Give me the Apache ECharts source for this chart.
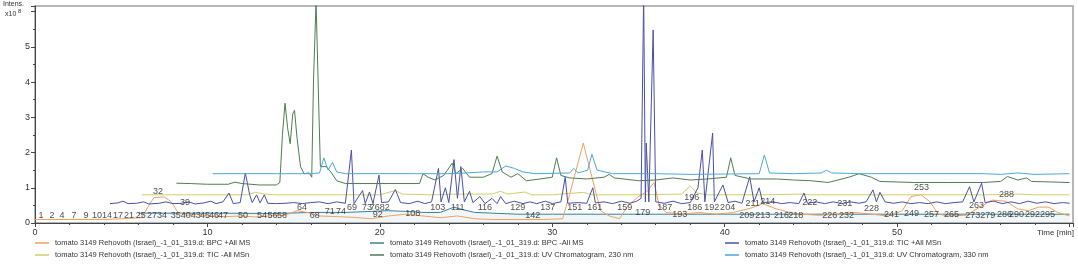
<!DOCTYPE html>
<html><head><meta charset="utf-8">
<script src="https://cdn.jsdelivr.net/npm/echarts@6/dist/echarts.min.js"></script>
<style>html,body{margin:0;padding:0;background:#fff}#c{width:1078px;height:269px}</style>
</head><body><div id="c"></div>
<script>
const P = 'tomato 3149 Rehovoth (Israel)_-1_01_319.d: ';
const names = [P+'BPC +All MS', P+'TIC -All MSn', P+'BPC -All MS', P+'UV Chromatogram, 230 nm', P+'TIC +All MSn', P+'UV Chromatogram, 330 nm'];
const colors = ['#f0a060', '#cfcf6a', '#3c7f96', '#4f7d52', '#4a50a6', '#4aa8d6'];

const xTicks = [0, 10, 20, 30, 40, 50];
const yTicks = [0, 1, 2, 3, 4, 5];

// BPC +All MS (orange)
const bpcPosT = [0,2,4,5,6.2,6.6,6.9,7.5,7.9,8.3,8.8,9.5,10,11,12,12.8,13.5,14.5,15.2,15.8,16.5,17.5,18.5,19.5,20.5,21.5,22.5,23.5,24.5,25.5,26.5,28,29.5,30.6,31.0,31.8,32.3,32.8,33.3,33.9,34.4,35.0,35.5,35.9,36.2,36.6,37.5,38.5,39.5,40.5,41.5,42.2,43,43.8,44.5,45.5,46.5,47.5,48.5,49.5,50.3,50.8,51.4,51.9,52.4,53,54,54.8,55.5,56.3,57,57.6,58.2,58.8,59.3,60];
const bpcPosV = [0.1,0.1,0.1,0.12,0.15,0.5,0.72,0.74,0.6,0.3,0.22,0.25,0.2,0.18,0.2,0.17,0.2,0.22,0.35,0.3,0.2,0.18,0.16,0.12,0.2,0.25,0.2,0.15,0.2,0.12,0.1,0.1,0.1,0.12,0.8,2.27,1.3,0.35,0.2,0.12,0.5,0.75,0.9,1.15,0.5,0.3,0.25,0.3,0.25,0.3,0.42,0.55,0.4,0.3,0.25,0.22,0.25,0.3,0.25,0.2,0.35,0.75,0.8,0.6,0.25,0.2,0.22,0.45,0.65,0.62,0.4,0.35,0.45,0.45,0.3,0.2];

// TIC -All MSn (yellow-green)
const ticNegT = [6.2,8,10,12.3,12.8,13.3,14,16,18,20,20.9,21.3,23,24.5,26.5,27.0,27.4,28.4,28.8,30,31.8,32.3,35,37.5,38.0,38.4,39,42,44.5,45,48,50,52,55,57,58,60];
const ticNegV = [0.8,0.8,0.8,0.8,0.87,0.82,0.8,0.8,0.8,0.8,0.92,0.82,0.8,0.82,0.82,0.9,0.82,0.88,0.8,0.8,0.87,0.8,0.8,0.82,1.05,0.85,0.8,0.8,0.82,0.8,0.8,0.8,0.8,0.8,0.82,0.8,0.8];

// BPC -All MS (teal)
const bpcNegT = [6,10,14,16,18,19.5,20.5,21.5,22.5,23.5,24.3,24.8,25.5,26.5,28,30,34,36,40,44,50,55,60];
const bpcNegV = [0.28,0.28,0.27,0.3,0.3,0.33,0.35,0.33,0.3,0.3,0.45,0.38,0.3,0.28,0.25,0.25,0.25,0.25,0.25,0.25,0.25,0.25,0.25];

// UV Chromatogram, 230 nm (green)
const uv230T = [8.2,9,10,11.2,11.6,12,13,14,14.2,14.35,14.5,14.65,14.8,14.95,15.05,15.2,15.4,15.6,15.9,16.05,16.15,16.3,16.42,16.55,16.9,17.2,17.5,18,20,22.3,22.5,22.8,23.2,23.7,24.2,24.4,24.8,25.2,26,26.5,26.8,27.1,27.6,28,28.5,29.3,30.0,30.25,30.5,31,32,33,33.3,33.6,35,36,37,38,39,40.1,40.35,40.6,41.5,43,44,45,46,47.2,47.8,48.5,49,51,53,55,56,56.4,57.0,57.5,57.8,60];
const uv230V = [1.13,1.12,1.1,1.1,1.16,1.12,1.08,1.08,1.15,2.5,3.4,2.7,2.25,3.1,3.2,2.4,1.6,1.4,1.42,1.3,4.0,6.3,4.0,1.6,1.6,1.42,1.2,1.12,1.12,1.12,1.4,1.3,1.22,1.35,1.7,1.4,1.55,1.3,1.3,1.4,1.9,1.45,1.3,1.4,1.2,1.25,1.3,1.85,1.35,1.28,1.25,1.3,1.38,1.28,1.2,1.22,1.28,1.22,1.25,1.3,1.85,1.35,1.25,1.25,1.22,1.2,1.15,1.3,1.4,1.3,1.18,1.15,1.15,1.15,1.18,1.32,1.22,1.28,1.18,1.15];

// TIC +All MSn (navy)
const ticPosT = [4.35,4.8,5.1,5.4,5.9,6.3,6.6,7.2,7.6,8.0,8.5,8.9,9.3,9.8,10.2,10.5,10.9,11.25,11.5,11.9,12.2,12.45,12.6,12.85,13.05,13.3,13.5,14,14.5,15,15.5,16,16.5,17,17.5,18.0,18.35,18.5,19.0,19.15,19.4,19.6,19.95,20.1,20.5,20.9,21.2,21.7,22.2,22.6,23.0,23.4,23.55,23.8,24.0,24.3,24.5,24.7,24.9,25.2,25.4,25.8,26.1,26.5,26.8,27.0,27.3,27.8,28.3,28.7,29.1,29.6,30.0,30.5,30.75,30.9,31.5,32.0,32.35,32.5,33.0,33.5,34.0,34.5,34.9,35.15,35.3,35.4,35.45,35.6,35.85,36.0,36.5,37,37.5,38,38.45,38.7,38.85,39.3,39.4,39.9,40.2,40.6,41.0,41.45,41.7,42.0,42.2,42.8,43.3,43.8,44.3,44.6,44.8,45.3,45.8,46.3,46.8,47.3,47.8,48.2,48.6,48.8,49.0,49.3,49.8,50.3,50.8,51.3,51.8,52.3,52.8,53.3,53.8,54.2,54.45,54.9,55.1,55.6,56.1,56.6,57.1,57.6,58.1,58.6,59.1,59.6,60.0];
const ticPosV = [0.55,0.57,0.62,0.55,0.56,0.6,0.54,0.56,0.6,0.55,0.56,0.6,0.54,0.57,0.62,0.55,0.6,0.85,0.55,0.58,1.42,0.8,0.58,0.8,0.57,0.8,0.56,0.55,0.56,0.58,0.55,0.58,0.6,0.55,0.6,0.56,2.07,0.55,0.92,0.55,0.88,0.55,1.36,0.58,0.6,0.95,0.58,0.55,0.62,0.55,0.6,1.55,0.6,1.0,0.58,1.8,0.7,1.6,0.6,0.9,0.58,0.75,0.55,0.7,0.55,0.75,0.55,0.62,0.55,0.6,0.55,0.62,0.55,0.6,1.3,0.56,0.58,0.56,1.0,0.57,0.6,0.55,0.62,0.56,0.62,0.7,6.5,0.6,2.27,0.6,5.48,0.6,0.56,0.62,0.55,0.58,1.0,2.07,0.6,2.55,0.6,1.08,0.58,0.62,0.56,1.31,0.6,1.0,0.58,0.6,0.55,0.58,0.55,0.85,0.56,0.6,0.55,0.6,0.55,0.6,0.56,0.6,0.94,0.6,0.87,0.6,0.56,0.6,0.55,0.58,0.55,0.6,0.55,0.58,0.6,1.03,0.6,1.13,0.58,0.62,0.55,0.6,0.55,0.62,0.56,0.6,0.55,0.58,0.56];

// UV Chromatogram, 330 nm (light blue)
const uv330T = [10.3,12,14,16,16.5,16.75,17.0,17.25,17.5,18,20,22,24,25,26,26.8,27.3,27.8,28.3,29,31,31.25,31.5,32.05,32.3,32.6,33.5,36,38,42.0,42.3,42.6,44,45.6,45.9,46.2,48,55,56,57,58,60];
const uv330V = [1.4,1.4,1.4,1.4,1.42,1.85,1.5,1.72,1.45,1.4,1.4,1.4,1.4,1.42,1.45,1.45,1.62,1.55,1.45,1.4,1.42,1.55,1.42,1.5,1.95,1.5,1.4,1.4,1.38,1.4,1.93,1.42,1.4,1.42,1.5,1.42,1.4,1.4,1.38,1.42,1.38,1.4];

// Peak labels
const peakNames = ['1','2','4','7','9','10','14','17','21','25','27','34','32','39','35','40','43','45','46','47','50','54','56','58','64','68','71','74','69','73','76','82','92','108','103','111','116','129','137','142','151','161','159','179','187','193','196','186','192','204','209','211','214','213','216','218','222','226','232','231','228','241','249','253','257','265','273','279','286','290','292','295','263','288'];
const peakT = [0.35,0.99,1.57,2.26,2.96,3.59,4.17,4.81,5.45,6.14,6.78,7.36,7.13,8.70,8.17,8.75,9.33,9.86,10.38,10.9,12.06,13.16,13.77,14.32,15.48,16.23,17.1,17.74,18.38,19.25,19.71,20.29,19.88,21.91,23.36,24.52,26.09,28.0,29.74,28.87,31.3,32.46,34.2,35.25,36.52,37.39,38.09,38.26,39.25,40.17,41.28,41.62,42.49,42.2,43.3,44.12,44.93,46.09,47.07,46.96,48.52,49.68,50.84,51.42,52.0,53.16,54.38,55.25,56.23,56.93,57.85,58.72,54.61,56.35];
const peakV = [0.2,0.2,0.2,0.2,0.2,0.2,0.2,0.2,0.2,0.2,0.2,0.2,0.88,0.57,0.2,0.2,0.2,0.2,0.2,0.2,0.2,0.2,0.2,0.2,0.43,0.2,0.34,0.34,0.43,0.43,0.43,0.43,0.25,0.26,0.43,0.45,0.43,0.43,0.43,0.2,0.45,0.45,0.45,0.31,0.45,0.23,0.71,0.43,0.45,0.43,0.2,0.54,0.62,0.2,0.2,0.2,0.57,0.2,0.2,0.54,0.4,0.23,0.28,1.02,0.23,0.23,0.2,0.2,0.23,0.23,0.23,0.23,0.51,0.82];

const seriesT = [bpcPosT, ticNegT, bpcNegT, uv230T, ticPosT, uv330T];
const seriesV = [bpcPosV, ticNegV, bpcNegV, uv230V, ticPosV, uv330V];

const drawOrder = [2, 0, 1, 4, 3, 5];
const series = drawOrder.map(i => {
  const s = {
    name: names[i], type: 'line', showSymbol: false, symbol: 'none',
    data: seriesT[i].map((t, k) => [t, seriesV[i][k]]),
    lineStyle: { width: 1, color: colors[i] }, itemStyle: { color: colors[i] },
    clip: true, z: 2 + drawOrder.indexOf(i)
  };
  if (i === 2) s.areaStyle = { color: 'rgba(120,170,200,0.15)' };
  return s;
});
series.push({
  type: 'scatter', symbolSize: 0, silent: true, z: 20,
  data: peakNames.map((n, k) => ({ name: n, value: [peakT[k], peakV[k]] })),
  label: { show: true, position: 'inside', formatter: p => p.name, fontSize: 9, color: '#222', fontFamily: 'Liberation Sans' }
});

const chart = echarts.init(document.getElementById('c'), null, { renderer: 'canvas' });
const legBase = {
  orient: 'vertical', itemGap: 4, itemWidth: 14, itemHeight: 1.5, icon: 'rect',
  top: 239, padding: 0,
  textStyle: { fontSize: 7.5, color: '#333', fontFamily: 'Liberation Sans', padding: [0, 0, 0, 1] }
};
chart.setOption({
  animation: false,
  textStyle: { fontFamily: 'Liberation Sans' },
  grid: { left: 35, right: 5, top: 6, bottom: 46, show: true, borderColor: '#a0a0a0', borderWidth: 1.5 },
  legend: [
    Object.assign({}, legBase, { left: 35, data: [names[0], names[1]] }),
    Object.assign({}, legBase, { left: 370, data: [names[2], names[3]] }),
    Object.assign({}, legBase, { left: 725, data: [names[4], names[5]] })
  ],
  xAxis: {
    type: 'value', min: 0, max: 60.2, interval: 10,
    axisLine: { show: true, lineStyle: { color: '#444' } },
    axisTick: { show: true, length: 4, lineStyle: { color: '#444' } },
    minorTick: { show: true, splitNumber: 5, length: 2, lineStyle: { color: '#444' } },
    splitLine: { show: false },
    axisLabel: { fontSize: 9, color: '#333', margin: 5, formatter: v => xTicks.indexOf(v) >= 0 ? String(v) : '' }
  },
  yAxis: {
    type: 'value', min: 0, max: 6.16, interval: 1,
    axisLine: { show: true, lineStyle: { color: '#444' } },
    axisTick: { show: true, length: 4, lineStyle: { color: '#444' } },
    minorTick: { show: true, splitNumber: 2, length: 2, lineStyle: { color: '#444' } },
    splitLine: { show: false },
    axisLabel: { fontSize: 9, color: '#333', margin: 5, formatter: v => yTicks.indexOf(v) >= 0 ? String(v) : '' }
  },
  graphic: [
    { type: 'text', left: 3, top: 1, style: { text: 'Intens.', fontSize: 7, fill: '#333', fontFamily: 'Liberation Sans' } },
    { type: 'text', left: 5, top: 11, style: { text: 'x10', fontSize: 7, fill: '#333', fontFamily: 'Liberation Sans' } },
    { type: 'text', left: 18, top: 8, style: { text: '8', fontSize: 6, fill: '#333', fontFamily: 'Liberation Sans' } },
    { type: 'text', left: 1037, top: 229, style: { text: 'Time [min]', fontSize: 8, fill: '#333', fontFamily: 'Liberation Sans' } }
  ],
  series: series
});
</script></body></html>
